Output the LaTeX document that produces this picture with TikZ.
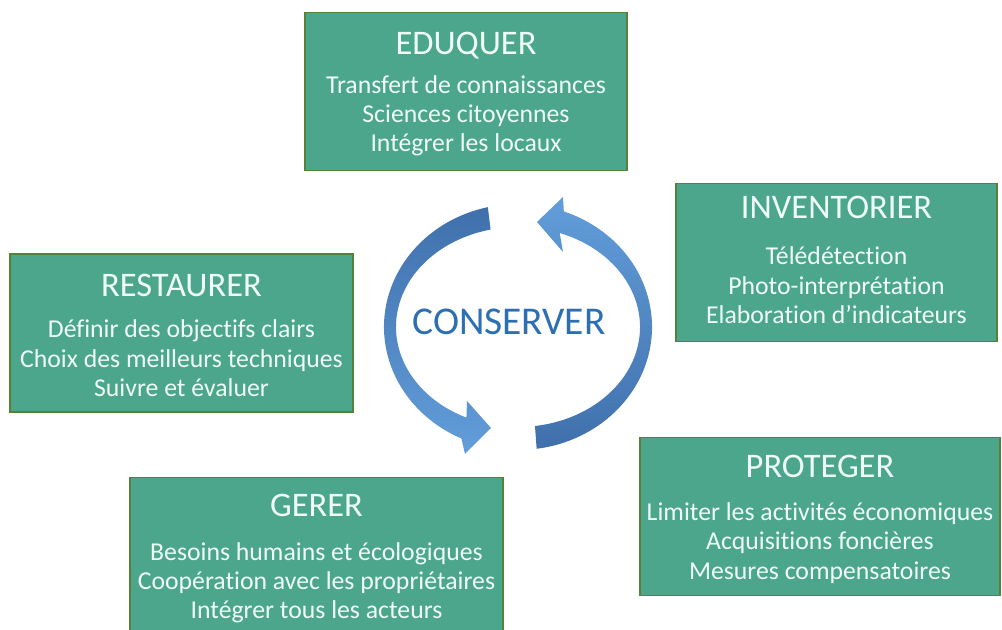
\documentclass[tikz,border=0pt]{standalone}
\usepackage{fontspec}
\setmainfont[Ligatures=NoCommon]{Carlito}
\usetikzlibrary{positioning,calc}

\definecolor{phasefill}{RGB}{75,166,139}
\definecolor{phaseedge}{RGB}{86,130,56}
\definecolor{phasetext}{RGB}{240,253,246}
\definecolor{loopdark}{RGB}{64,112,172}
\definecolor{looplight}{RGB}{98,158,218}
\definecolor{coreblue}{RGB}{44,112,178}

\begin{document}
\begin{tikzpicture}[
  x=0.025cm, y=0.025cm,
  every node/.style={inner sep=0pt, text=phasetext},
  phase/.style={rectangle,draw=phaseedge,line width=1.3pt,fill=phasefill,minimum height=3.95cm},
  phasetitle/.style={anchor=base,font=\fontsize{24.5}{28}\selectfont},
  phasebody/.style={align=center,font=\fontsize{18.3}{20.9}\selectfont},
  core/.style={font=\fontsize{28}{32}\selectfont,text=coreblue},
  loopleft/.style={top color=loopdark,bottom color=looplight,draw=none},
  loopright/.style={top color=looplight,bottom color=loopdark,draw=none}
]
\clip (0,0) rectangle (1002,630);

% Boxes
\node[phase, minimum width=8.05cm] (edu) at (466,538.5) {};
\node[phase, minimum width=8.03cm] (inv) at (836.5,367.5) {};
\node[phase, minimum width=8.58cm] (res) at (181.5,297) {};
\node[phase, minimum width=9.33cm] (ger) at (316.5,73.5) {};
\node[phase, minimum width=9.0cm] (pro) at (820,113.5) {};

% Titles
\node[phasetitle] (eduT) at ($(edu.north)+(0,-43)$) {EDUQUER};
\node[phasetitle] (invT) at ($(inv.north)+(0,-36)$) {INVENTORIER};
\node[phasetitle] (resT) at ($(res.north)+(0,-43)$) {RESTAURER};
\node[phasetitle] (gerT) at ($(ger.north)+(0,-40)$) {GERER};
\node[phasetitle] (proT) at ($(pro.north)+(0,-41)$) {PROTEGER};

% Actions
\node[phasebody, below=0.39cm of eduT] (eduB) {Transfert de connaissances\\Sciences citoyennes\\Intégrer les locaux};
\node[phasebody, below=0.69cm of invT] (invB) {Télédétection\\Photo-interprétation\\Elaboration d’indicateurs};
\node[phasebody, below=0.58cm of resT] (resB) {Définir des objectifs clairs\\Choix des meilleurs techniques\\Suivre et évaluer};
\node[phasebody, below=0.62cm of gerT] (gerB) {Besoins humains et écologiques\\Coopération avec les propriétaires\\Intégrer tous les acteurs};
\node[phasebody, below=0.6cm of proT] (proB) {Limiter les activités économiques\\Acquisitions foncières\\Mesures compensatoires};

% Cycle
\coordinate (cyc) at (518,303);
\node[core] (con) at (509,308) {CONSERVER};

\shade[loopleft] ($(cyc)+(103:134 and 123)$)
  arc[start angle=103,end angle=245,x radius=134,y radius=123]
  -- ($(cyc)+(-53,-127)$) -- ($(cyc)+(-27,-101)$) -- ($(cyc)+(-51,-74)$)
  -- ($(cyc)+(245:122 and 100)$)
  arc[start angle=245,end angle=103,x radius=122,y radius=100] -- cycle;

\shade[loopright] ($(cyc)+(278:134 and 123)$)
  arc[start angle=278,end angle=430,x radius=134,y radius=123]
  -- ($(cyc)+(45,130)$) -- ($(cyc)+(19,105)$) -- ($(cyc)+(45,75)$)
  -- ($(cyc)+(70:122 and 100)$)
  arc[start angle=70,end angle=-82,x radius=122,y radius=100] -- cycle;
\end{tikzpicture}
\end{document}
